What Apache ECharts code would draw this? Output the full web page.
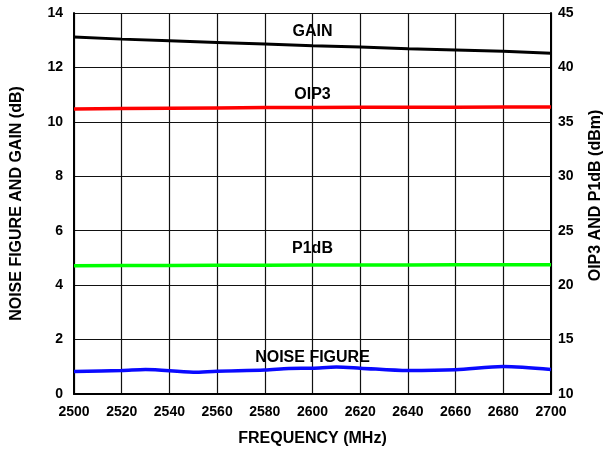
<!DOCTYPE html>
<html><head><meta charset="utf-8">
<script src="https://cdn.jsdelivr.net/npm/echarts@6/dist/echarts.min.js"></script>
<style>html,body{margin:0;padding:0;background:#fff}#c{width:615px;height:449px}</style>
</head><body><div id="c"></div>
<script>
const freq = [2500,2520,2540,2560,2580,2600,2620,2640,2660,2680,2700];
const gain = [13.12,13.04,12.98,12.92,12.86,12.80,12.75,12.69,12.64,12.59,12.52];
const oip3 = [36.18,36.22,36.25,36.28,36.31,36.33,36.34,36.35,36.35,36.36,36.36];
const p1db = [21.79,21.80,21.81,21.82,21.83,21.84,21.85,21.86,21.87,21.87,21.88];
const nfFreq = [2500,2520,2530,2550,2560,2580,2590,2600,2610,2620,2640,2660,2680,2700];
const nf = [0.83,0.86,0.90,0.80,0.84,0.88,0.94,0.95,0.99,0.95,0.86,0.89,1.01,0.90];
const leftTicks = [0,2,4,6,8,10,12,14];
const rightTicks = [10,15,20,25,30,35,40,45];
const seriesLabels = ['GAIN','OIP3','P1dB','NOISE FIGURE'];
const labelPos = [[2600,13.31],[2600,37.5],[2600,23.32],[2600,1.34]];

const fam = 'Liberation Sans, Arial, sans-serif';
const tickFont = {fontFamily:fam, fontWeight:'bold', fontSize:14, color:'#000'};
const nameFont = {fontFamily:fam, fontWeight:'bold', fontSize:16, color:'#000'};
const chart = echarts.init(document.getElementById('c'));
function lbl(i){ return {coord:labelPos[i], value:seriesLabels[i], symbol:'circle', symbolSize:1, itemStyle:{color:'rgba(0,0,0,0)'},
  label:{show:true, formatter:seriesLabels[i], position:'inside', ...nameFont}}; }
chart.setOption({
  animation:false,
  grid:{left:74, right:64, top:13, bottom:55, show:false, outerBoundsMode:'none', containLabel:false},
  xAxis:{type:'value', min:2500, max:2700, interval:20,
    name:'FREQUENCY (MHz)', nameLocation:'middle', nameGap:37, nameTextStyle:nameFont,
    axisLine:{show:true, lineStyle:{color:'#000', width:2}}, axisTick:{show:false},
    axisLabel:{...tickFont, margin:11, formatter:v=>String(v)},
    splitLine:{show:true, lineStyle:{color:'#111', width:1.2}}},
  yAxis:[
    {type:'value', min:leftTicks[0], max:leftTicks[leftTicks.length-1], interval:2,
     name:'NOISE FIGURE AND GAIN (dB)', nameLocation:'middle', nameGap:49, nameRotate:90, nameTextStyle:nameFont,
     axisLine:{show:true, lineStyle:{color:'#000', width:2}}, axisTick:{show:false},
     axisLabel:{...tickFont, margin:11},
     splitLine:{show:true, lineStyle:{color:'#111', width:1.2}}},
    {type:'value', min:rightTicks[0], max:rightTicks[rightTicks.length-1], interval:5, position:'right',
     name:'OIP3 AND P1dB (dBm)', nameLocation:'middle', nameGap:37, nameRotate:90,
     nameTextStyle:{...nameFont, padding:[0,0,0,16]},
     axisLine:{show:true, lineStyle:{color:'#000', width:2}}, axisTick:{show:false},
     axisLabel:{...tickFont, margin:7},
     splitLine:{show:false}}
  ],
  series:[
    {name:'GAIN', type:'line', yAxisIndex:0, data:freq.map((f,i)=>[f,gain[i]]), symbol:'none',
     lineStyle:{color:'#000', width:3}, markPoint:{data:[lbl(0)]}},
    {name:'OIP3', type:'line', yAxisIndex:1, data:freq.map((f,i)=>[f,oip3[i]]), symbol:'none',
     lineStyle:{color:'#ff0000', width:3.5}, markPoint:{data:[lbl(1)]}},
    {name:'P1dB', type:'line', yAxisIndex:1, data:freq.map((f,i)=>[f,p1db[i]]), symbol:'none',
     lineStyle:{color:'#00ff00', width:3.5}, markPoint:{data:[lbl(2)]}},
    {name:'NOISE FIGURE', type:'line', yAxisIndex:0, smooth:0.3, data:nfFreq.map((f,i)=>[f,nf[i]]), symbol:'none',
     lineStyle:{color:'#0a0aff', width:3.5}, markPoint:{data:[lbl(3)]}}
  ]
});
</script></body></html>
